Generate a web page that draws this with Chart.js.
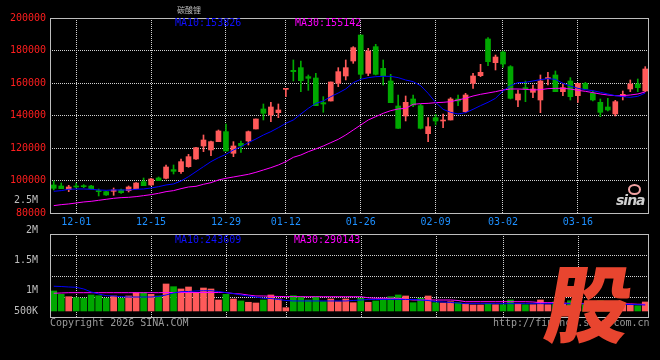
<!DOCTYPE html>
<html>
<head>
<meta charset="utf-8">
<script src="https://cdn.jsdelivr.net/npm/chart.js"></script>
<style>
body { margin: 0; background: #000; }
#wrap { position: relative; width: 660px; height: 360px; overflow: hidden; background: #000; font-family: "DejaVu Sans Mono", monospace; }
canvas { position: absolute; left: 0; top: 0; }
.txt { position: absolute; font-size: 10px; line-height: 10px; white-space: nowrap; }
#gu { position: absolute; left: 548px; top: 258px; font-family: "Noto Sans CJK SC"; font-weight: 900; font-size: 84px; line-height: 84px; color: #e8452f; transform: skewX(-10deg); }
#sinaLogo { position: absolute; left: 616px; top: 193px; font-family: "DejaVu Sans"; font-style: italic; font-weight: bold; font-size: 14px; line-height: 14px; color: #cfcfcf; letter-spacing: -1px; }
#sinaEye { position: absolute; left: 628px; top: 184px; width: 9px; height: 7px; border: 2px solid #f2a4a4; border-radius: 50%; }
</style>
</head>
<body>
<div id="wrap">
  <canvas id="volChart" width="660" height="360"></canvas>
  <canvas id="kChart" width="660" height="360"></canvas>

  <div class="txt" style="left:177px; top:5px; font-size:8px; color:#bdbdbd; font-family:'Noto Sans CJK SC';">碳酸锂</div>
  <div class="txt" style="left:175px; top:18px; color:#1010ff;">MA10:153826</div>
  <div class="txt" style="left:295px; top:18px; color:#ff00ff;">MA30:155142</div>
  <div class="txt" style="left:175px; top:235px; color:#1010ff;">MA10:243609</div>
  <div class="txt" style="left:294px; top:235px; color:#ff00ff;">MA30:290143</div>
  <div class="txt" style="left:50px; top:318px; color:#9a9a9a;">Copyright 2026 SINA.COM</div>
  <div class="txt" style="left:493px; top:318px; color:#9a9a9a;">http://finance.sina.com.cn</div>
  <div id="sinaEye"></div>
  <div id="sinaLogo">sina</div>
  <div id="gu">股</div>
</div>

<script>
// trading days shown on the chart
const dates = [
  '11-26','11-27','11-28','12-01','12-02','12-03','12-04','12-05','12-08','12-09',
  '12-10','12-11','12-12','12-15','12-16','12-17','12-18','12-19','12-22','12-23',
  '12-24','12-25','12-26','12-29','12-30','12-31','01-05','01-06','01-07','01-08',
  '01-09','01-12','01-13','01-14','01-15','01-16','01-19','01-20','01-21','01-22',
  '01-23','01-26','01-27','01-28','01-29','01-30','02-02','02-03','02-04','02-05',
  '02-06','02-09','02-10','02-11','02-12','02-13','02-24','02-25','02-26','02-27',
  '03-02','03-03','03-04','03-05','03-06','03-09','03-10','03-11','03-12','03-13',
  '03-16','03-17','03-18','03-19','03-20','03-23','03-24','03-25','03-26','03-27'
];
const gridDates = ['12-01', '12-15', '12-29', '01-12', '01-26', '02-09', '03-02', '03-16'];

const openP = [
  97250, 96630, 94370, 96630, 96630, 96630, 93760, 93140, 93350, 94170, 93760, 94990, 99300, 97250, 101550, 101350,
  106680, 105450, 108520, 113240, 121230, 118780, 123910, 130060, 116730, 122880, 124320, 131700, 144010, 140320, 141750, 156100,
  167800, 169440, 163900, 163080, 147900, 148930, 159800, 164320, 173540, 189540, 165950, 182360, 169030, 161240, 145850, 139700,
  150160, 146060, 128830, 138670, 136630, 137240, 150160, 142370, 159800, 164520, 187080, 172510, 179080, 170060, 149550, 157140,
  154260, 149550, 162700, 164930, 154670, 161240, 152210, 159800, 153640, 148110, 145240, 140930, 151600, 156320, 159390, 155080
];
const highP = [
  99710, 98480, 97040, 98270, 97450, 97040, 94780, 93350, 95400, 94780, 96630, 98680, 101550, 101350, 102170, 109550,
  109550, 113240, 116110, 120410, 128010, 124320, 131090, 134780, 123910, 124320, 130470, 137860, 147080, 148110, 147080, 156500,
  174160, 173540, 164930, 165950, 151600, 160620, 169440, 174160, 182360, 189540, 181340, 183800, 174160, 165340, 152620, 152000,
  152620, 146880, 138670, 140720, 140930, 150980, 152620, 153640, 165950, 171490, 187900, 177230, 179690, 170670, 155700, 161240,
  158770, 164930, 166570, 167390, 159800, 163290, 159800, 160420, 155080, 150160, 150570, 149340, 155080, 161850, 162470, 170060
];
const lowP = [
  94170, 94990, 93140, 95400, 95600, 94580, 90480, 90880, 90880, 92110, 92930, 94780, 96830, 97040, 99910, 100940,
  104010, 104420, 108110, 113030, 117760, 115290, 123910, 118170, 114680, 117340, 121850, 131700, 137240, 136220, 138680, 151600,
  161240, 154670, 155490, 146060, 141960, 148930, 157750, 161850, 172100, 162880, 164520, 164930, 158770, 147900, 132110, 136630,
  145440, 131700, 123910, 134170, 132520, 137240, 146060, 141960, 156720, 163900, 170670, 168010, 169650, 150160, 145440, 148520,
  150980, 141750, 158770, 154670, 152210, 149550, 148110, 156320, 148930, 139290, 142780, 139700, 149550, 154670, 154670, 154670
];
const closeP = [
  95190, 94990, 96020, 96020, 96220, 94990, 93140, 91090, 94170, 92520, 96020, 98480, 96830, 100940, 99910, 108320,
  105650, 111600, 114680, 120210, 124920, 123910, 130470, 118170, 121240, 121240, 130060, 137860, 141350, 145240, 143400, 156300,
  166980, 161440, 162880, 146060, 147080, 160620, 166980, 169440, 181740, 165340, 179700, 165340, 164520, 147900, 132110, 148110,
  146470, 132110, 133140, 136630, 137240, 150160, 148930, 152620, 164320, 166570, 173130, 175990, 171690, 150570, 153240, 156320,
  156320, 161240, 163100, 154670, 157140, 151600, 159800, 156320, 149550, 141960, 143390, 148520, 153030, 159390, 157140, 168620
];
const ma10 = [
  93350, 93760, 94580, 94780, 94780, 94580, 94170, 93960, 94170, 94170, 94170, 94580, 94780, 95400, 96220, 97250,
  97860, 99710, 102370, 105450, 108530, 111600, 114060, 116110, 118780, 120830, 123290, 125550, 128010, 130060, 132520, 135190,
  137240, 140930, 144420, 147490, 148930, 151600, 153850, 156310, 160210, 162260, 163290, 163900, 164110, 164110, 163290, 161850,
  160830, 158360, 153640, 148110, 143800, 141960, 140930, 141750, 143800, 146060, 148110, 150570, 155080, 158360, 160210, 160420,
  161240, 162060, 162670, 162260, 159800, 158160, 156720, 155900, 155290, 154260, 153240, 152210, 151600, 151190, 151800, 153830
];
const ma30 = [
  84530, 85140, 85560, 86170, 86790, 87200, 87810, 88430, 89040, 89450, 89660, 90070, 90680, 91300, 92120, 93140,
  93760, 94990, 96010, 96430, 97660, 98680, 100320, 101350, 102170, 102990, 103810, 105040, 106480, 107910, 109550, 111600,
  114270, 115700, 117740, 119400, 121240, 123290, 125340, 128010, 131090, 134160, 137240, 139290, 141340, 142980, 144010, 144420,
  146880, 147290, 147490, 147900, 148110, 148520, 149550, 150570, 152000, 153030, 153850, 154670, 155700, 156310, 156310, 156110,
  155700, 155900, 156520, 156720, 156720, 156310, 155490, 154880, 154060, 153240, 152620, 152210, 152210, 152620, 153230, 154500
];
const volume = [
  983000, 928000, 888000, 872000, 862000, 917000, 905000, 862000, 900000, 862000, 900000, 955000, 955000, 928000, 900000, 1100000,
  1055000, 1017000, 1050000, 955000, 1033000, 1017000, 833000, 928000, 850000, 817000, 795000, 783000, 833000, 917000, 850000, 705000,
  905000, 888000, 833000, 888000, 805000, 850000, 805000, 850000, 788000, 862000, 795000, 817000, 850000, 888000, 917000, 900000,
  788000, 862000, 900000, 788000, 783000, 805000, 788000, 767000, 750000, 750000, 772000, 755000, 755000, 833000, 767000, 755000,
  755000, 833000, 755000, 800000, 780000, 820000, 770000, 760000, 790000, 820000, 780000, 800000, 760000, 750000, 738000, 800000
];
const volMa10 = [
  1062000, 1058000, 1050000, 1045000, 1017000, 967000, 933000, 905000, 900000, 888000, 883000, 883000, 883000, 883000, 892000, 917000,
  950000, 972000, 975000, 983000, 988000, 988000, 975000, 955000, 942000, 917000, 900000, 883000, 862000, 858000, 842000, 825000,
  817000, 817000, 817000, 817000, 817000, 817000, 817000, 817000, 825000, 833000, 842000, 842000, 842000, 842000, 842000, 842000,
  842000, 833000, 825000, 805000, 800000, 792000, 783000, 772000, 772000, 772000, 772000, 772000, 772000, 772000, 772000, 772000,
  772000, 772000, 772000, 772000, 772000, 772000, 772000, 767000, 767000, 767000, 763000, 763000, 758000, 758000, 755000, 750000
];
const volMa30 = [
  945000, 950000, 955000, 955000, 955000, 955000, 955000, 955000, 955000, 955000, 955000, 955000, 955000, 955000, 955000, 958000,
  958000, 958000, 958000, 958000, 958000, 958000, 958000, 958000, 940000, 933000, 915000, 900000, 900000, 895000, 892000, 890000,
  890000, 888000, 888000, 888000, 888000, 888000, 888000, 888000, 888000, 888000, 870000, 862000, 862000, 862000, 862000, 845000,
  833000, 833000, 833000, 833000, 833000, 833000, 825000, 805000, 805000, 805000, 805000, 805000, 805000, 805000, 805000, 805000,
  800000, 788000, 788000, 788000, 780000, 778000, 775000, 775000, 775000, 775000, 775000, 775000, 770000, 768000, 762000, 762000
];

// axes
const priceMin = 80000, priceMax = 200000, priceStep = 20000;
const volAxisMin = 533000, volAxisMax = 2583000, volBase = 650000;
const volTickValues = [650000, 1000000, 1500000, 2000000, 2500000];
const volTickLabels = ['500K', '1M', '1.5M', '2M', '2.5M'];
const volGridMax = 5.857, volGridLines = [1, 2, 3], volPanelTop = 4;

const upColor = '#ff5a5a';
const downColor = '#00a800';
const gridColor = '#d2d2d2';
const frameColor = '#bdbdbd';

Chart.defaults.font.family = 'DejaVu Sans Mono';
Chart.defaults.font.size = 10;
Chart.defaults.animation = false;

function candleColor(i) {
    return closeP[i] >= openP[i] ? upColor : downColor;
}
var colors = dates.map(function (d, i) { return candleColor(i); });

function isGridDate(i) {
    return gridDates.includes(dates[i]);
}

function xGridColor(c) {
    return isGridDate(c.index) ? gridColor : 'rgba(0,0,0,0)';
}

// box round the plot area
const frame = {
    id: 'frame',
    afterDraw(chart) {
        const a = chart.chartArea;
        const ctx = chart.ctx;
        ctx.save();
        ctx.strokeStyle = frameColor;
        ctx.lineWidth = 1;
        ctx.strokeRect(a.left + 0.5, a.top + 0.5, a.right - a.left - 1, a.bottom - a.top);
        ctx.restore();
    }
};

// volume panel is shorter than its axis (labels run up to 2.5M), so grid and box are drawn here
const volPanel = {
    id: 'volPanel',
    beforeDatasetsDraw(chart) {
        const a = chart.chartArea;
        const ctx = chart.ctx;
        const xs = chart.scales.x;
        const yg = chart.scales.yg;
        const top = Math.round(yg.getPixelForValue(volPanelTop));
        ctx.save();
        ctx.strokeStyle = gridColor;
        ctx.lineWidth = 1;
        ctx.setLineDash([1, 1]);
        ctx.beginPath();
        dates.forEach(function (d, i) {
            if (!isGridDate(i)) return;
            const x = Math.round(xs.getPixelForValue(i)) + 0.5;
            ctx.moveTo(x, top);
            ctx.lineTo(x, a.bottom);
        });
        volGridLines.forEach(function (v) {
            const y = Math.round(yg.getPixelForValue(v)) + 0.5;
            ctx.moveTo(a.left, y);
            ctx.lineTo(a.right, y);
        });
        ctx.stroke();
        ctx.restore();
    },
    afterDraw(chart) {
        const a = chart.chartArea;
        const ctx = chart.ctx;
        const top = Math.round(chart.scales.yg.getPixelForValue(volPanelTop));
        ctx.save();
        ctx.strokeStyle = frameColor;
        ctx.lineWidth = 1;
        ctx.strokeRect(a.left + 0.5, top + 0.5, a.right - a.left - 1, a.bottom - top - 1);
        ctx.restore();
    }
};

// K line chart
const ctx = document.getElementById('kChart');

new Chart(ctx, {
    type: 'bar',
    data: {
        labels: dates,
        datasets: [{
            type: 'line',
            label: 'MA10',
            data: ma10,
            borderColor: '#0000ff',
            borderWidth: 1,
            pointRadius: 0,
            order: 0
        }, {
            type: 'line',
            label: 'MA30',
            data: ma30,
            borderColor: '#ff00ff',
            borderWidth: 1,
            pointRadius: 0,
            order: 0
        }, {
            label: 'body',
            data: openP.map(function (o, i) { return [o, closeP[i]]; }),
            backgroundColor: colors,
            barThickness: 5,
            minBarLength: 1,
            grouped: false,
            order: 1
        }, {
            label: 'wick',
            data: lowP.map(function (l, i) { return [l, highP[i]]; }),
            backgroundColor: colors,
            barThickness: 1,
            grouped: false,
            order: 2
        }]
    },
    options: {
        responsive: false,
        devicePixelRatio: 1,
        events: [],
        layout: { padding: { top: 18, left: 0, right: 11, bottom: 133 } },
        plugins: { legend: { display: false }, tooltip: { enabled: false } },
        scales: {
            x: {
                offset: true,
                grid: { offset: false, drawTicks: false, color: xGridColor },
                border: { display: false, dash: [1, 1] },
                ticks: {
                    autoSkip: false,
                    maxRotation: 0,
                    padding: 3,
                    color: '#1e90ff',
                    callback: function (v, i) { return isGridDate(i) ? dates[i] : ''; }
                },
                afterFit: function (s) { s.height = 14; }
            },
            y: {
                min: priceMin,
                max: priceMax,
                ticks: {
                    stepSize: priceStep,
                    color: '#ff1e1e',
                    padding: 4,
                    callback: function (v) { return String(v); }
                },
                grid: { drawTicks: false, color: gridColor },
                border: { display: false, dash: [1, 1] },
                afterFit: function (s) { s.width = 50; }
            }
        }
    },
    plugins: [frame]
});

// volume chart
const ctx2 = document.getElementById('volChart');

new Chart(ctx2, {
    type: 'bar',
    data: {
        labels: dates,
        datasets: [{
            type: 'line',
            label: 'MA10',
            data: volMa10,
            borderColor: '#0000ff',
            borderWidth: 1,
            pointRadius: 0,
            order: 0
        }, {
            type: 'line',
            label: 'MA30',
            data: volMa30,
            borderColor: '#ff00ff',
            borderWidth: 1,
            pointRadius: 0,
            order: 0
        }, {
            label: 'volume',
            data: volume,
            base: volBase,
            backgroundColor: colors,
            barThickness: 6,
            grouped: false,
            order: 1
        }]
    },
    options: {
        responsive: false,
        devicePixelRatio: 1,
        events: [],
        layout: { padding: { top: 195, left: 0, right: 11, bottom: 42 } },
        plugins: { legend: { display: false }, tooltip: { enabled: false } },
        scales: {
            x: {
                offset: true,
                grid: { display: false },
                border: { display: false },
                ticks: { display: false, autoSkip: false },
                afterFit: function (s) { s.height = 0; }
            },
            y: {
                min: volAxisMin,
                max: volAxisMax,
                afterBuildTicks: function (s) {
                    s.ticks = volTickValues.map(function (v) { return { value: v }; });
                },
                ticks: {
                    color: '#bdbdbd',
                    padding: 4,
                    callback: function (v, i) { return volTickLabels[i]; }
                },
                grid: { display: false },
                border: { display: false },
                afterFit: function (s) { s.width = 50; }
            },
            yg: {
                position: 'right',
                min: 0,
                max: volGridMax,
                ticks: { display: false },
                grid: { display: false },
                border: { display: false },
                afterFit: function (s) { s.width = 0; }
            }
        }
    },
    plugins: [volPanel]
});
</script>
</body>
</html>
